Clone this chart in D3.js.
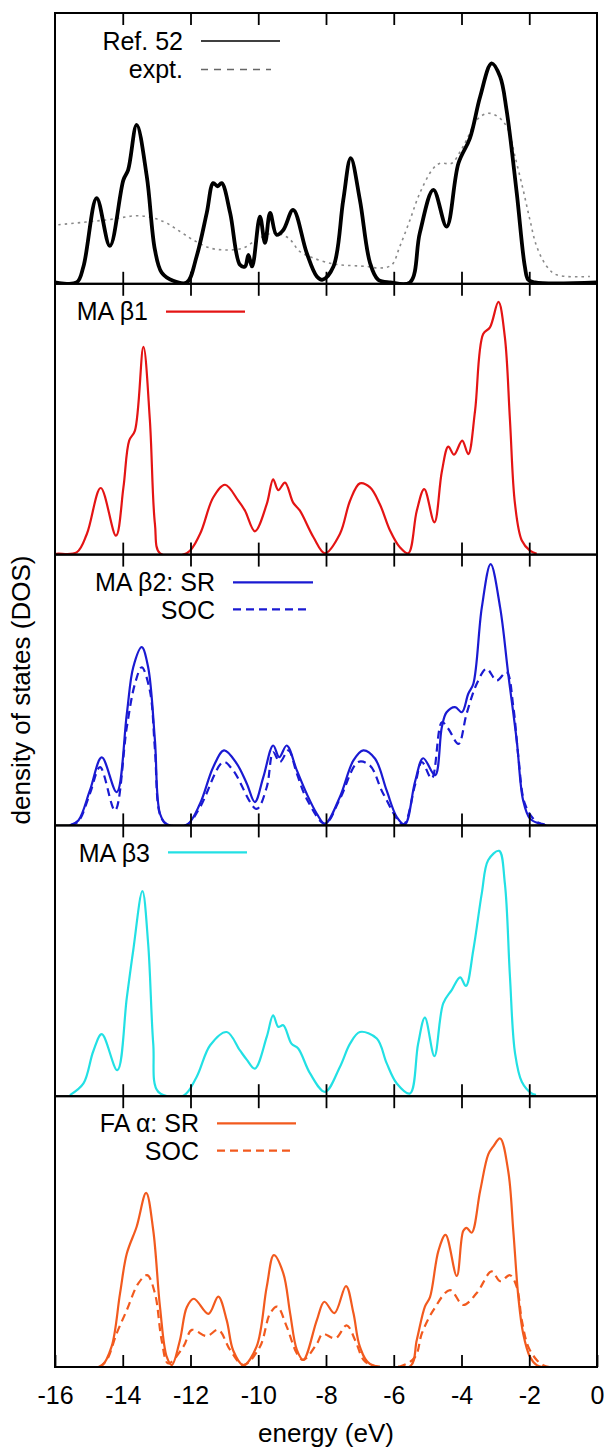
<!DOCTYPE html>
<html>
<head>
<meta charset="utf-8">
<script src="https://cdn.jsdelivr.net/npm/d3@7"></script>
<style>
  html, body { margin: 0; padding: 0; background: #fff; }
  svg { display: block; }
  text { font-family: "Liberation Sans", Arial, Helvetica, sans-serif; fill: #000; }
</style>
</head>
<body>
<svg id="chart" width="604" height="1451"></svg>
<script>
// Energy axis ticks (eV)
const energyTicks = [-16, -14, -12, -10, -8, -6, -4, -2, 0];

// DOS curves as [energy (eV), DOS (arb. units, 0-100 per panel)]
const ref52 = [
  [-16, 0.5], [-15.36, 0.5], [-15.16, 6.4], [-14.77, 31.6], [-14.38, 14.0], [-13.98, 38.4],
  [-13.84, 42.1], [-13.59, 58.7], [-13.29, 39.6], [-13.05, 12.5], [-12.85, 4.1], [-12.51, 1.1],
  [-12.11, 0.5], [-11.82, 10.1], [-11.52, 26.2], [-11.33, 37.2], [-11.20, 36.0], [-11.08, 37.2],
  [-10.83, 26.2], [-10.54, 7.0], [-10.39, 6.4], [-10.29, 10.7], [-10.18, 6.4], [-9.95, 24.8],
  [-9.80, 15.1], [-9.65, 26.2], [-9.46, 18.1], [-9.26, 19.9], [-8.97, 27.3], [-8.57, 11.4],
  [-8.27, 2.7], [-8.1, 1.5], [-7.78, 6.4], [-7.49, 31.0], [-7.27, 46.4], [-7.0, 31.0],
  [-6.70, 7.7], [-6.46, 1.5], [-6.1, 0.5], [-5.52, 0.5], [-5.23, 18.8], [-4.83, 34.7],
  [-4.44, 21.1], [-4.09, 44.5], [-3.75, 53.8], [-3.45, 69.1], [-3.11, 81.4], [-2.86, 76.5],
  [-2.67, 64.2], [-2.37, 33.6], [-2.13, 6.4], [-2.03, 1.5], [-1.83, 0.5], [0, 0.5]
];
const expt = [
  [-15.9, 21.8], [-14.47, 23.6], [-13.49, 25.1], [-12.80, 23.0], [-12.31, 19.3], [-11.92, 16.2],
  [-11.42, 13.2], [-10.93, 12.5], [-10.44, 13.2], [-10.05, 16.2], [-9.56, 18.7], [-9.11, 16.9],
  [-8.77, 11.9], [-8.37, 9.5], [-7.88, 7.6], [-7.59, 7.0], [-6.80, 6.4], [-6.41, 5.8],
  [-6.06, 7.0], [-5.82, 13.8], [-5.52, 23.6], [-5.23, 33.5], [-4.83, 42.7], [-4.63, 44.5],
  [-4.29, 44.5], [-4.04, 48.8], [-3.85, 53.1], [-3.55, 60.5], [-3.21, 63.0], [-2.86, 61.1],
  [-2.62, 56.8], [-2.42, 47.0], [-2.18, 34.7], [-1.98, 23.6], [-1.78, 13.8], [-1.48, 6.4],
  [-1.19, 3.3], [-0.21, 2.7]
];
const maBeta1 = [
  [-16, 0], [-15.95, 0.3], [-15.36, 0.8], [-15.06, 7.6], [-14.65, 24.6], [-14.20, 7.0],
  [-13.98, 24.8], [-13.81, 42.1], [-13.64, 45.8], [-13.39, 76.7], [-13.20, 49.8], [-13.05, 11.3],
  [-12.90, 0.5], [-12.11, 0.5], [-11.72, 7.6], [-11.33, 21.1], [-10.98, 25.8], [-10.59, 19.9],
  [-10.39, 16.2], [-10.10, 8.6], [-9.75, 18.6], [-9.56, 27.8], [-9.41, 23.8], [-9.21, 26.6],
  [-8.97, 19.2], [-8.77, 16.2], [-8.37, 6.4], [-8.03, 0.5], [-7.59, 7.6], [-7.29, 19.9],
  [-7.00, 26.3], [-6.70, 24.8], [-6.41, 18.6], [-6.11, 8.9], [-5.82, 2.7], [-5.57, 0.5],
  [-5.32, 16.2], [-5.10, 24.2], [-4.80, 11.9], [-4.58, 30.7], [-4.39, 39.9], [-4.22, 36.9],
  [-3.98, 42.1], [-3.80, 37.1], [-3.60, 53.1], [-3.36, 81.5], [-3.16, 83.9], [-2.91, 93.3],
  [-2.72, 80.3], [-2.57, 49.8], [-2.42, 18.6], [-2.22, 5.2], [-1.98, 1.5], [-1.78, 0.3]
];
const maBeta2SR = [
  [-15.56, 0], [-15.31, 1.8], [-14.97, 12.9], [-14.62, 25.1], [-14.18, 12.3], [-13.88, 41.2],
  [-13.69, 58.4], [-13.44, 65.8], [-13.25, 58.4], [-13.05, 31.4], [-12.90, 4.3], [-12.70, 0.4],
  [-12.11, 0.2], [-11.72, 8.0], [-11.33, 21.5], [-11.01, 27.7], [-10.64, 22.9], [-10.34, 15.5],
  [-10.10, 8.6], [-9.85, 17.8], [-9.56, 29.5], [-9.38, 25.2], [-9.16, 29.5], [-8.86, 20.3],
  [-8.57, 11.7], [-8.27, 4.3], [-8.03, 0.6], [-7.59, 10.5], [-7.19, 24.0], [-6.90, 27.7],
  [-6.55, 24.6], [-6.21, 12.9], [-5.91, 3.1], [-5.67, 0.4], [-5.37, 16.2], [-5.13, 24.8],
  [-4.78, 18.5], [-4.58, 36.3], [-4.44, 41.8], [-4.19, 43.7], [-3.99, 41.8], [-3.80, 48.6],
  [-3.65, 52.3], [-3.40, 80.5], [-3.14, 96.5], [-2.86, 80.5], [-2.62, 55.9], [-2.37, 31.4],
  [-2.18, 9.2], [-1.98, 2.5], [-1.68, 0.6], [-1.5, 0]
];
const maBeta2SOC = [
  [-15.56, 0], [-15.31, 1.5], [-14.97, 11.7], [-14.67, 21.5], [-14.23, 5.5], [-13.88, 36.3],
  [-13.64, 52.3], [-13.44, 58.4], [-13.20, 49.8], [-13.05, 28.0], [-12.90, 4.0], [-12.70, 0.4],
  [-12.11, 0.2], [-11.72, 6.7], [-11.03, 23.4], [-10.74, 20.3], [-10.05, 6.1], [-9.75, 14.1],
  [-9.56, 27.0], [-9.36, 23.4], [-9.11, 27.7], [-8.86, 19.1], [-8.57, 9.8], [-8.03, 0.6],
  [-7.59, 9.8], [-7.05, 23.4], [-6.70, 22.1], [-6.31, 11.7], [-5.72, 0.4], [-5.37, 15.0],
  [-5.17, 23.4], [-4.88, 17.3], [-4.58, 38.1], [-4.39, 35.7], [-4.09, 30.1], [-3.85, 41.2],
  [-3.55, 52.3], [-3.26, 57.8], [-2.96, 53.5], [-2.67, 56.6], [-2.47, 43.7], [-2.32, 25.2],
  [-2.13, 8.0], [-1.83, 1.8], [-1.63, 0.6], [-1.38, 0]
];
const maBeta3 = [
  [-15.56, 0.4], [-15.16, 4.7], [-14.87, 16.6], [-14.62, 22.9], [-14.16, 9.6], [-13.88, 36.4],
  [-13.69, 53.9], [-13.42, 75.7], [-13.25, 56.3], [-13.10, 19.4], [-12.95, 1.6], [-12.21, 0.2],
  [-11.82, 7.1], [-11.42, 18.8], [-10.93, 23.7], [-10.54, 16.9], [-10.34, 13.5], [-10.10, 10.2],
  [-9.75, 21.9], [-9.56, 29.9], [-9.41, 25.6], [-9.26, 26.2], [-9.02, 19.4], [-8.82, 17.6],
  [-8.47, 8.4], [-8.03, 1.6], [-7.59, 10.8], [-7.29, 19.4], [-7.00, 23.7], [-6.50, 21.3],
  [-6.21, 12.2], [-5.91, 4.7], [-5.52, 1.0], [-5.28, 19.4], [-5.08, 29.0], [-4.80, 14.8],
  [-4.54, 34.3], [-4.29, 39.2], [-4.04, 43.9], [-3.87, 40.7], [-3.65, 54.1], [-3.40, 75.0],
  [-3.21, 87.2], [-2.89, 90.6], [-2.72, 78.6], [-2.57, 44.2], [-2.42, 15.9], [-2.22, 5.3],
  [-1.93, 1.0], [-1.8, 0.5]
];
const faAlphaSR = [
  [-14.8, 0], [-14.62, 0.4], [-14.33, 7.5], [-14.08, 27.2], [-13.88, 41.9], [-13.59, 51.8],
  [-13.31, 64.3], [-13.10, 50.5], [-12.90, 22.1], [-12.70, 3.7], [-12.55, 0.7], [-12.31, 10.0],
  [-12.11, 22.1], [-11.90, 25.2], [-11.47, 19.6], [-11.18, 26.0], [-10.93, 17.2], [-10.74, 6.1],
  [-10.44, 0.7], [-10.05, 7.5], [-9.75, 29.6], [-9.54, 41.3], [-9.26, 34.6], [-9.06, 19.9],
  [-8.86, 6.3], [-8.67, 2.6], [-8.27, 17.3], [-8.05, 24.1], [-7.75, 19.9], [-7.41, 29.9],
  [-7.19, 19.9], [-7.00, 7.5], [-6.70, 1.1], [-5.52, 0.2], [-5.32, 10.0], [-5.08, 22.3],
  [-4.93, 25.8], [-4.68, 43.0], [-4.47, 48.8], [-4.14, 33.6], [-3.95, 50.2], [-3.85, 51.4],
  [-3.70, 49.6], [-3.45, 65.0], [-3.21, 78.5], [-3.06, 81.5], [-2.86, 84.4], [-2.62, 72.3],
  [-2.47, 50.2], [-2.32, 25.6], [-2.18, 12.4], [-1.98, 3.8], [-1.78, 0.7], [-1.6, 0]
];
const faAlphaSOC = [
  [-14.7, 0], [-14.47, 2.6], [-14.18, 12.4], [-13.88, 21.0], [-13.54, 30.9], [-13.28, 33.9],
  [-13.05, 27.2], [-12.85, 9.8], [-12.66, 1.3], [-12.21, 7.5], [-11.96, 13.7], [-11.52, 11.4],
  [-11.18, 13.7], [-10.83, 6.3], [-10.44, 0.7], [-9.95, 7.5], [-9.65, 19.8], [-9.44, 22.3],
  [-9.16, 14.9], [-8.86, 5.0], [-8.67, 2.6], [-8.27, 8.6], [-8.10, 12.2], [-7.72, 10.6],
  [-7.39, 15.4], [-7.14, 9.9], [-6.89, 2.6], [-6.65, 0.7], [-5.8, 0.3], [-5.37, 3.7], [-5.17, 12.4],
  [-4.83, 21.0], [-4.34, 28.4], [-3.95, 22.9], [-3.55, 27.3], [-3.11, 35.3], [-2.86, 31.7],
  [-2.57, 33.9], [-2.37, 29.6], [-2.22, 17.3], [-2.03, 7.5], [-1.78, 2.6], [-1.59, 0.7], [-1.4, 0]
];

// Panel layout
const plotLeft = 55, plotRight = 597, plotTop = 13, plotBottom = 1367;
const nPanels = 5;
const panelH = (plotBottom - plotTop) / nPanels;

const svg = d3.select("#chart");
const x = d3.scaleLinear().domain([-16, 0]).range([plotLeft, plotRight]);

const panels = [
  {
    lines: [
      { data: expt, color: "#8a8a8a", width: 1.6, dash: "2.5,4" },
      { data: ref52, color: "#000", width: 3.8, dash: null }
    ],
    legend: { right: 183, rows: [
      { label: "Ref. 52", base: 49.5, sampleY: 41, color: "#000", width: 1.4, dash: null, len: 79 },
      { label: "expt.", base: 77.5, sampleY: 69.5, color: "#666", width: 1.3, dash: "7,6", len: 70 }
    ] }
  },
  {
    lines: [{ data: maBeta1, color: "#e41414", width: 2.2, dash: null }],
    legend: { right: 148, rows: [
      { label: "MA β1", base: 320, sampleY: 311.7, color: "#e41414", width: 2.2, dash: null, len: 79 }
    ] }
  },
  {
    lines: [
      { data: maBeta2SOC, color: "#1a1ad2", width: 2.2, dash: "8,5" },
      { data: maBeta2SR, color: "#1a1ad2", width: 2.2, dash: null }
    ],
    legend: { right: 215, rows: [
      { label: "MA β2: SR", base: 591, sampleY: 582.3, color: "#1a1ad2", width: 2.2, dash: null, len: 80 },
      { label: "SOC", base: 619, sampleY: 609.3, color: "#1a1ad2", width: 2.2, dash: "8,5", len: 78 }
    ] }
  },
  {
    lines: [{ data: maBeta3, color: "#22e0e4", width: 2.2, dash: null }],
    legend: { right: 150, rows: [
      { label: "MA β3", base: 861.7, sampleY: 852.3, color: "#22e0e4", width: 2.2, dash: null, len: 79 }
    ] }
  },
  {
    lines: [
      { data: faAlphaSOC, color: "#f25a1e", width: 2.2, dash: "8,5" },
      { data: faAlphaSR, color: "#f25a1e", width: 2.2, dash: null }
    ],
    legend: { right: 199, rows: [
      { label: "FA α: SR", base: 1132, sampleY: 1123.3, color: "#f25a1e", width: 2.2, dash: null, len: 79 },
      { label: "SOC", base: 1160, sampleY: 1150.7, color: "#f25a1e", width: 2.2, dash: "8,5", len: 77 }
    ] }
  }
];

const defs = svg.append("defs");
const innerTicks = energyTicks.slice(1, -1);

panels.forEach((p, i) => {
  const top = plotTop + i * panelH;
  const bottom = top + panelH;
  const isLast = i === nPanels - 1;
  const y = d3.scaleLinear().domain([0, 100]).range([bottom, top]);
  const g = svg.append("g").attr("class", "panel");

  defs.append("clipPath").attr("id", "clip" + i)
    .append("rect").attr("x", plotLeft).attr("y", top)
    .attr("width", plotRight - plotLeft).attr("height", panelH);

  const line = d3.line()
    .x(d => x(d[0]))
    .y(d => y(d[1]))
    .curve(d3.curveCatmullRom.alpha(0.5));

  const curves = g.append("g").attr("clip-path", `url(#clip${i})`);
  p.lines.forEach(l => {
    curves.append("path")
      .datum(l.data)
      .attr("d", line)
      .attr("fill", "none")
      .attr("stroke", l.color)
      .attr("stroke-width", l.width)
      .attr("stroke-linejoin", "round")
      .attr("stroke-dasharray", l.dash);
  });

  // inward ticks on the bottom edge (labelled only under the last panel)
  const axB = g.append("g").attr("transform", `translate(0,${bottom})`)
    .call(d3.axisBottom(x).tickValues(isLast ? energyTicks : innerTicks)
      .tickSize(-12).tickPadding(19)
      .tickFormat(d => isLast ? (d < 0 ? "-" + Math.abs(d) : String(d)) : ""));
  axB.select(".domain").remove();
  axB.selectAll(".tick line").attr("stroke", "#000").attr("stroke-width", 1.8);
  axB.selectAll("text").attr("font-size", 25)
    .attr("font-family", '"Liberation Sans", Arial, sans-serif').attr("fill", "#000");

  // inward ticks on the top edge
  const axT = g.append("g").attr("transform", `translate(0,${top})`)
    .call(d3.axisTop(x).tickValues(innerTicks).tickSize(-12).tickFormat(""));
  axT.select(".domain").remove();
  axT.selectAll(".tick line").attr("stroke", "#000").attr("stroke-width", 1.8);

  // frame
  g.append("rect")
    .attr("x", plotLeft).attr("y", top)
    .attr("width", plotRight - plotLeft).attr("height", panelH)
    .attr("fill", "none").attr("stroke", "#000").attr("stroke-width", 2);

  // key
  const lg = g.append("g").attr("class", "key");
  p.legend.rows.forEach(r => {
    lg.append("text")
      .attr("x", p.legend.right).attr("y", r.base)
      .attr("text-anchor", "end")
      .attr("font-size", 25)
      .text(r.label);
    lg.append("line")
      .attr("x1", p.legend.right + 18).attr("x2", p.legend.right + 18 + r.len)
      .attr("y1", r.sampleY).attr("y2", r.sampleY)
      .attr("stroke", r.color).attr("stroke-width", r.width)
      .attr("stroke-dasharray", r.dash);
  });
});

// axis titles
svg.append("text")
  .attr("x", (plotLeft + plotRight) / 2).attr("y", 1442)
  .attr("text-anchor", "middle").attr("font-size", 26)
  .text("energy (eV)");

svg.append("text")
  .attr("transform", `translate(30,${(plotTop + plotBottom) / 2}) rotate(-90)`)
  .attr("text-anchor", "middle").attr("font-size", 26)
  .text("density of states (DOS)");
</script>
</body>
</html>
